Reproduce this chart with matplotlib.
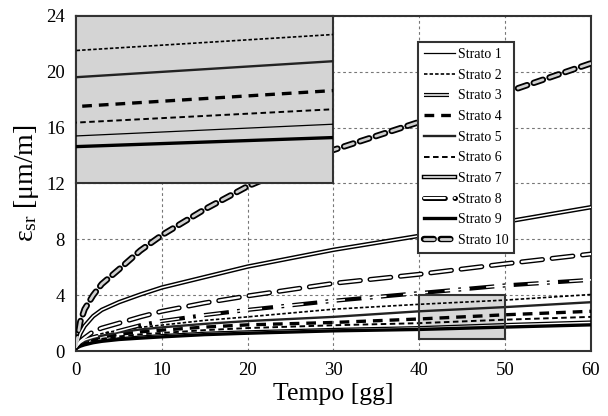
import matplotlib
matplotlib.use("Agg")
import matplotlib.pyplot as plt
from matplotlib.patches import Rectangle

plt.rcParams['font.family'] = ['Liberation Serif', 'DejaVu Serif']
plt.rcParams['mathtext.fontset'] = 'custom'
plt.rcParams['mathtext.rm'] = 'Liberation Serif'
plt.rcParams['mathtext.it'] = 'Liberation Serif:italic'
plt.rcParams['lines.scale_dashes'] = False

# ---------------- data ----------------
t = [0, 0.5, 1, 2, 3, 5, 7.5, 10, 15, 20, 30, 40, 50, 60]
labels = ["Strato 1", "Strato 2", "Strato 3", "Strato 4", "Strato 5",
          "Strato 6", "Strato 7", "Strato 8", "Strato 9", "Strato 10"]
s1 = [0.2, 0.4, 0.52, 0.68, 0.8, 0.95, 1.08, 1.18, 1.35, 1.45, 1.62, 1.75, 1.97, 2.15]
s2 = [0.3, 0.6, 0.78, 1.05, 1.25, 1.5, 1.7, 1.86, 2.2, 2.45, 3.0, 3.35, 3.65, 4.05]
s3 = [0.3, 0.6, 0.8, 1.0, 1.15, 1.45, 1.85, 2.15, 2.58, 2.95, 3.6, 4.15, 4.7, 5.1]
s4 = [0.25, 0.5, 0.65, 0.85, 1.0, 1.2, 1.38, 1.5, 1.72, 1.88, 2.05, 2.3, 2.6, 2.85]
s5 = [0.3, 0.55, 0.7, 0.95, 1.1, 1.35, 1.55, 1.7, 1.95, 2.15, 2.45, 2.85, 3.15, 3.5]
s6 = [0.25, 0.45, 0.58, 0.75, 0.88, 1.05, 1.2, 1.3, 1.5, 1.65, 1.85, 2.0, 2.25, 2.45]
s7 = [0.3, 1.25, 1.8, 2.5, 2.95, 3.5, 4.05, 4.55, 5.3, 6.05, 7.25, 8.25, 9.25, 10.3]
s8 = [0.3, 0.7, 0.95, 1.4, 1.65, 2.0, 2.45, 2.85, 3.45, 3.95, 4.85, 5.5, 6.25, 6.95]
s9 = [0.2, 0.35, 0.45, 0.6, 0.7, 0.83, 0.93, 1.02, 1.18, 1.28, 1.45, 1.55, 1.72, 1.88]
s10 = [0.3, 2.1, 3.0, 4.0, 4.8, 5.85, 7.2, 8.3, 10.15, 11.8, 14.4, 16.4, 18.5, 20.6]
series = [s1, s2, s3, s4, s5, s6, s7, s8, s9, s10]

xticks = [0, 10, 20, 30, 40, 50, 60]
yticks = [0, 4, 8, 12, 16, 20, 24]
zoom_x = (40, 50)
zoom_y = (0.86, 4.0)
inset_x = (0, 30)
inset_y = (12, 24)

# styles: list of layers (kwargs) for each stratum
styles = [
    [dict(color='k', lw=0.9)],
    [dict(color='k', lw=1.2, dashes=(2.5, 1.5))],
    [dict(color='k', lw=3.0, dashes=(18, 6, 2, 6)),
     dict(color='white', lw=1.1, dashes=(18, 6, 0.01, 6))],
    [dict(color='k', lw=2.4, dashes=(7, 5))],
    [dict(color='#222222', lw=1.7)],
    [dict(color='k', lw=1.4, dashes=(4, 2.5))],
    [dict(color='k', lw=3.2), dict(color='white', lw=1.1)],
    [dict(color='k', lw=3.6, dashes=(15, 7), dash_capstyle='round'),
     dict(color='white', lw=1.6, dashes=(15, 7), dash_capstyle='round')],
    [dict(color='k', lw=2.4)],
    [dict(color='k', lw=4.6, dashes=(7, 5), dash_capstyle='round'),
     dict(color='#cfcfcf', lw=2.0, dashes=(7, 5), dash_capstyle='round')],
]

fig = plt.figure(figsize=(6.08, 4.16), dpi=100)
ax = fig.add_axes([0.125, 0.156, 0.847, 0.806])

def draw(axis, zo=3):
    handles = []
    for y, st in zip(series, styles):
        arts = []
        for k, kw in enumerate(st):
            ln, = axis.plot(t, y, zorder=zo + k * 0.1, **kw)
            arts.append(ln)
        handles.append(tuple(arts) if len(arts) > 1 else arts[0])
    return handles

handles = draw(ax)

ax.set_xlim(0, 60)
ax.set_ylim(0, 24)
ax.set_xticks(xticks)
ax.set_yticks(yticks)
ax.tick_params(length=0, labelsize=13.5, pad=8)
ax.grid(True, color='#777777', lw=0.8, dashes=(2, 2))
for sp in ax.spines.values():
    sp.set_linewidth(1.5)
    sp.set_color('#333333')
ax.set_xlabel('Tempo [gg]', fontsize=18.5, labelpad=3)
ax.set_ylabel(r'$\mathregular{ε_{sr}}$ [μm/m]', fontsize=20, labelpad=4)

# zoom box
ax.add_patch(Rectangle((zoom_x[0], zoom_y[0]), zoom_x[1] - zoom_x[0],
                       zoom_y[1] - zoom_y[0], facecolor='#c8c8c8', alpha=0.7,
                       edgecolor='none', zorder=2))
ax.add_patch(Rectangle((zoom_x[0], zoom_y[0]), zoom_x[1] - zoom_x[0],
                       zoom_y[1] - zoom_y[0], facecolor='none',
                       edgecolor='#333333', lw=1.5, zorder=6))

# inset
axin = ax.inset_axes([inset_x[0], inset_y[0], inset_x[1] - inset_x[0],
                      inset_y[1] - inset_y[0]], transform=ax.transData)
axin.set_facecolor('#d4d4d4')
draw(axin)
axin.set_xlim(*zoom_x)
axin.set_ylim(*zoom_y)
axin.set_xticks([])
axin.set_yticks([])
for sp in axin.spines.values():
    sp.set_linewidth(1.5)
    sp.set_color('#333333')

leg = ax.legend(handles, labels, loc='upper left',
                bbox_to_anchor=(0.664, 0.922), borderaxespad=0,
                fontsize=10, frameon=True, fancybox=False,
                edgecolor='#333333', framealpha=1, handlelength=2.2,
                handletextpad=0.2, labelspacing=0.55, borderpad=0.45)
leg.get_frame().set_linewidth(1.5)
leg.set_zorder(10)

fig.savefig('out.png', dpi=100)
